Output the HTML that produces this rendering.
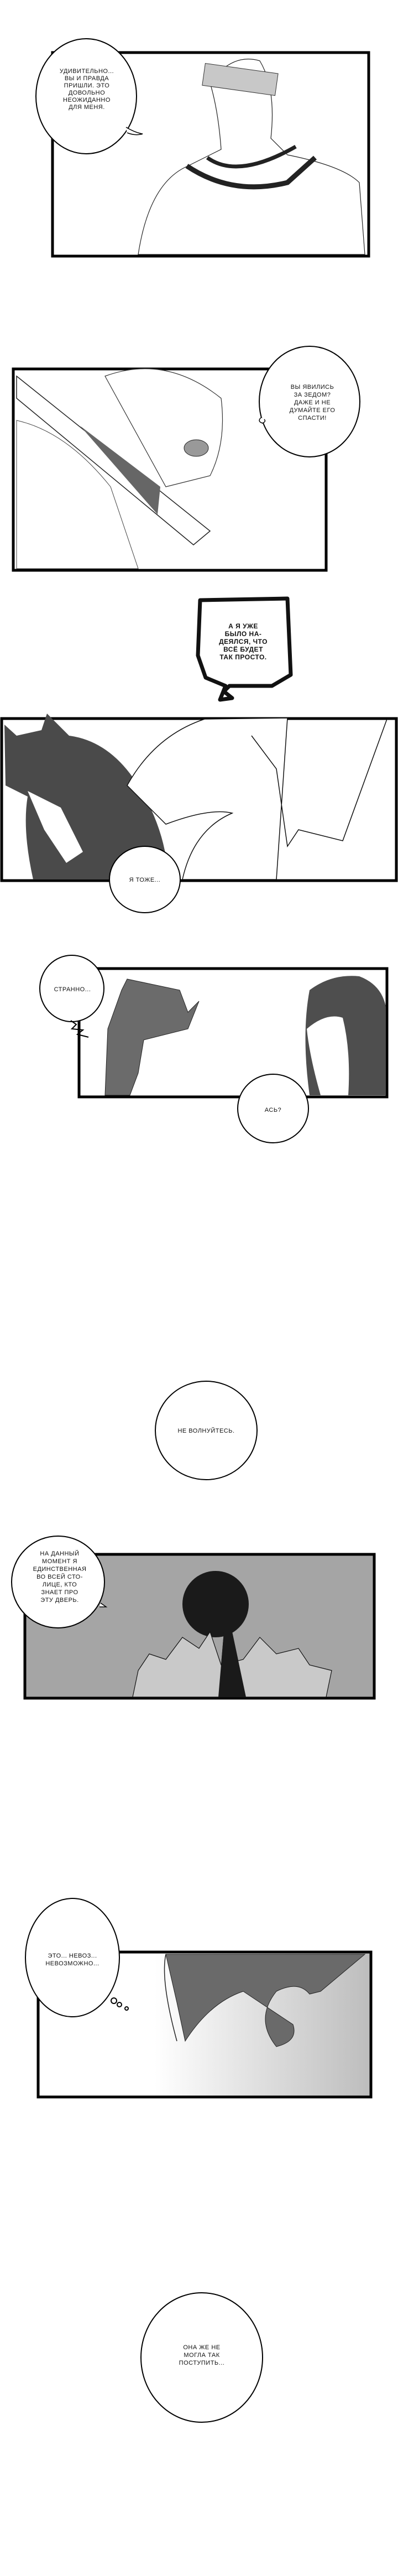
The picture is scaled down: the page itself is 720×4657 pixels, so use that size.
<!DOCTYPE html>
<html><head><meta charset="utf-8"><style>
html,body{margin:0;padding:0;background:#fff;}
svg{display:block;}
text{font-family:"Liberation Sans",sans-serif;font-size:11px;fill:#111;text-anchor:middle;letter-spacing:0.5px;}
</style></head><body>
<svg width="720" height="4657" viewBox="0 0 720 4657" xmlns="http://www.w3.org/2000/svg">
<defs>
<linearGradient id="g6" x1="0" x2="1" y1="0" y2="0"><stop offset="0" stop-color="#fff"/><stop offset="0.35" stop-color="#fff"/><stop offset="1" stop-color="#bdbdbd"/></linearGradient>
</defs>
<!-- Panel 1 -->
<rect x="95" y="95" width="572" height="368" fill="#fff" stroke="#000" stroke-width="5"/>
<path d="M250 460 Q270 330 340 300 L400 270 Q395 200 380 150 Q420 95 470 110 Q500 160 490 250 L520 280 Q620 300 650 330 L660 460 Z" fill="#fff" stroke="#222" stroke-width="1.2"/>
<rect x="368" y="123" width="133" height="40" fill="#c8c8c8" transform="rotate(8 430 143)" stroke="#333"/>
<path d="M338 300 Q420 355 520 330 L570 285" fill="none" stroke="#222" stroke-width="9"/>
<path d="M375 285 Q430 325 535 265" fill="none" stroke="#222" stroke-width="7"/>
<!-- bubble 1 -->
<ellipse cx="156" cy="174" rx="91" ry="104" fill="#fff" stroke="#000" stroke-width="2"/>
<path d="M228 230 Q245 240 258 242 Q245 246 230 240" fill="#fff" stroke="#000" stroke-width="1.5"/>
<text x="157" y="132">УДИВИТЕЛЬНО...</text><text x="157" y="145">ВЫ И ПРАВДА</text><text x="157" y="158">ПРИШЛИ. ЭТО</text><text x="157" y="171">ДОВОЛЬНО</text><text x="157" y="184">НЕОЖИДАННО</text><text x="157" y="197">ДЛЯ МЕНЯ.</text>
<!-- Panel 2 -->
<rect x="24" y="667" width="566" height="364" fill="#fff" stroke="#000" stroke-width="5"/>
<path d="M30 680 L380 960 L350 985 L30 720 Z" fill="#fff" stroke="#222" stroke-width="1.5"/>
<path d="M145 770 L290 880 L285 930 Z" fill="#666"/>
<path d="M190 680 Q300 640 400 720 Q410 800 380 860 L300 880 Z" fill="#fff" stroke="#333" stroke-width="1.2"/>
<ellipse cx="355" cy="810" rx="22" ry="15" fill="#999" stroke="#222"/>
<path d="M30 760 Q120 780 200 880 L250 1028 L30 1028 Z" fill="#fff" stroke="#444" stroke-width="1"/>
<ellipse cx="560" cy="726" rx="91" ry="100" fill="#fff" stroke="#000" stroke-width="2"/>
<path d="M472 755 Q465 762 475 765 Q482 762 478 758" fill="#fff" stroke="#000" stroke-width="1.5"/>
<text x="565" y="703">ВЫ ЯВИЛИСЬ</text><text x="565" y="717">ЗА ЗЕДОМ?</text><text x="565" y="731">ДАЖЕ И НЕ</text><text x="565" y="745">ДУМАЙТЕ ЕГО</text><text x="565" y="759">СПАСТИ!</text>
<!-- Panel 3 -->
<rect x="3" y="1299" width="714" height="293" fill="#fff" stroke="#000" stroke-width="5"/>
<path d="M8 1310 L30 1330 L75 1320 L85 1290 L125 1330 Q200 1340 250 1420 Q300 1500 305 1590 L60 1590 Q40 1500 50 1440 L10 1420 Z" fill="#4a4a4a"/>
<path d="M50 1430 L80 1500 L120 1560 L150 1540 L110 1460 Z" fill="#fff"/>
<path d="M230 1420 Q280 1330 370 1300 L520 1298 L500 1590 L330 1590 Q350 1500 420 1470 Q380 1460 300 1490 Z" fill="#fff" stroke="#111" stroke-width="1.5"/>
<path d="M455 1330 L500 1390 L520 1530 L540 1500 L620 1520 L700 1300" fill="none" stroke="#111" stroke-width="1.5"/>
<!-- jagged box -->
<path d="M362 1085 L520 1082 L526 1220 L492 1240 L415 1240 L405 1250 L420 1262 L398 1265 L408 1240 L372 1225 L358 1185 Z" fill="#fff" stroke="#111" stroke-width="7" stroke-linejoin="round"/>
<text x="440" y="1136" style="font-weight:bold;font-size:12px">А Я УЖЕ</text><text x="440" y="1150" style="font-weight:bold;font-size:12px">БЫЛО НА-</text><text x="440" y="1164" style="font-weight:bold;font-size:12px">ДЕЯЛСЯ, ЧТО</text><text x="440" y="1178" style="font-weight:bold;font-size:12px">ВСЁ БУДЕТ</text><text x="440" y="1192" style="font-weight:bold;font-size:12px">ТАК ПРОСТО.</text>
<ellipse cx="262" cy="1590" rx="64" ry="60" fill="#fff" stroke="#000" stroke-width="2"/>
<text x="262" y="1594">Я ТОЖЕ...</text>
<!-- Panel 4 -->
<rect x="143" y="1751" width="557" height="232" fill="#fff" stroke="#000" stroke-width="5"/>
<path d="M190 1980 L195 1860 L220 1790 L230 1770 L325 1790 L340 1830 L360 1810 L340 1860 L260 1880 L250 1940 L235 1980 Z" fill="#6b6b6b" stroke="#222"/>
<path d="M560 1980 Q545 1870 560 1790 Q600 1760 650 1765 Q690 1780 698 1820 L698 1980 Z" fill="#4e4e4e"/>
<path d="M555 1860 Q590 1830 620 1840 Q635 1900 630 1980 L580 1980 Q560 1910 555 1860 Z" fill="#fff"/>
<ellipse cx="130" cy="1787" rx="58" ry="60" fill="#fff" stroke="#000" stroke-width="2"/>
<path d="M128 1845 L138 1852 L130 1860 L150 1862 L140 1870 L160 1875" fill="none" stroke="#000" stroke-width="2"/>
<text x="131" y="1792">СТРАННО...</text>
<ellipse cx="494" cy="2004" rx="64" ry="62" fill="#fff" stroke="#000" stroke-width="2"/>
<text x="494" y="2010">АСЬ?</text>
<!-- bubble mid -->
<ellipse cx="373" cy="2586" rx="92" ry="89" fill="#fff" stroke="#000" stroke-width="2"/>
<text x="373" y="2590">НЕ ВОЛНУЙТЕСЬ.</text>
<!-- Panel 5 -->
<rect x="45" y="2810" width="632" height="260" fill="#a5a5a5" stroke="#000" stroke-width="5"/>
<ellipse cx="390" cy="2900" rx="60" ry="60" fill="#1a1a1a"/>
<path d="M405 2950 L395 3068 L445 3068 L420 2950 Z" fill="#1a1a1a"/>
<path d="M240 3068 L250 3020 L270 2990 L300 3000 L330 2960 L360 2980 L380 2950 L400 3010 L440 3000 L470 2960 L500 2990 L540 2980 L560 3010 L600 3020 L590 3068 Z" fill="#c9c9c9" stroke="#111" stroke-width="1.2"/>
<path d="M405 2950 L395 3068 L445 3068 L420 2950 Z" fill="#1a1a1a"/>
<ellipse cx="105" cy="2860" rx="84" ry="83" fill="#fff" stroke="#000" stroke-width="2"/>
<path d="M182 2898 L192 2905 L180 2905" fill="#fff" stroke="#000" stroke-width="1.5"/>
<text x="108" y="2812">НА ДАННЫЙ</text><text x="108" y="2826">МОМЕНТ Я</text><text x="108" y="2840">ЕДИНСТВЕННАЯ</text><text x="108" y="2854">ВО ВСЕЙ СТО-</text><text x="108" y="2868">ЛИЦЕ, КТО</text><text x="108" y="2882">ЗНАЕТ ПРО</text><text x="108" y="2896">ЭТУ ДВЕРЬ.</text>
<!-- Panel 6 -->
<rect x="69" y="3529" width="602" height="262" fill="url(#g6)" stroke="#000" stroke-width="5"/>
<path d="M300 3533 L660 3533 L580 3600 L560 3605 Q540 3580 500 3600 Q460 3650 500 3700 Q540 3690 530 3660 L440 3600 Q380 3620 335 3690 L320 3620 Z" fill="#6a6a6a" stroke="#222"/>
<path d="M300 3533 Q290 3580 320 3690" fill="none" stroke="#222" stroke-width="1.5"/>
<ellipse cx="131" cy="3539" rx="85" ry="107" fill="#fff" stroke="#000" stroke-width="2"/>
<circle cx="206" cy="3617" r="5" fill="#fff" stroke="#000" stroke-width="2"/>
<circle cx="216" cy="3624" r="4" fill="#fff" stroke="#000" stroke-width="2"/>
<circle cx="229" cy="3631" r="3" fill="#fff" stroke="#000" stroke-width="2"/>
<text x="131" y="3539">ЭТО... НЕВОЗ...</text><text x="131" y="3553">НЕВОЗМОЖНО...</text>
<!-- final bubble -->
<ellipse cx="365" cy="4262" rx="110" ry="117" fill="#fff" stroke="#000" stroke-width="2"/>
<text x="365" y="4247">ОНА ЖЕ НЕ</text><text x="365" y="4261">МОГЛА ТАК</text><text x="365" y="4275">ПОСТУПИТЬ...</text>
</svg>
</body></html>
